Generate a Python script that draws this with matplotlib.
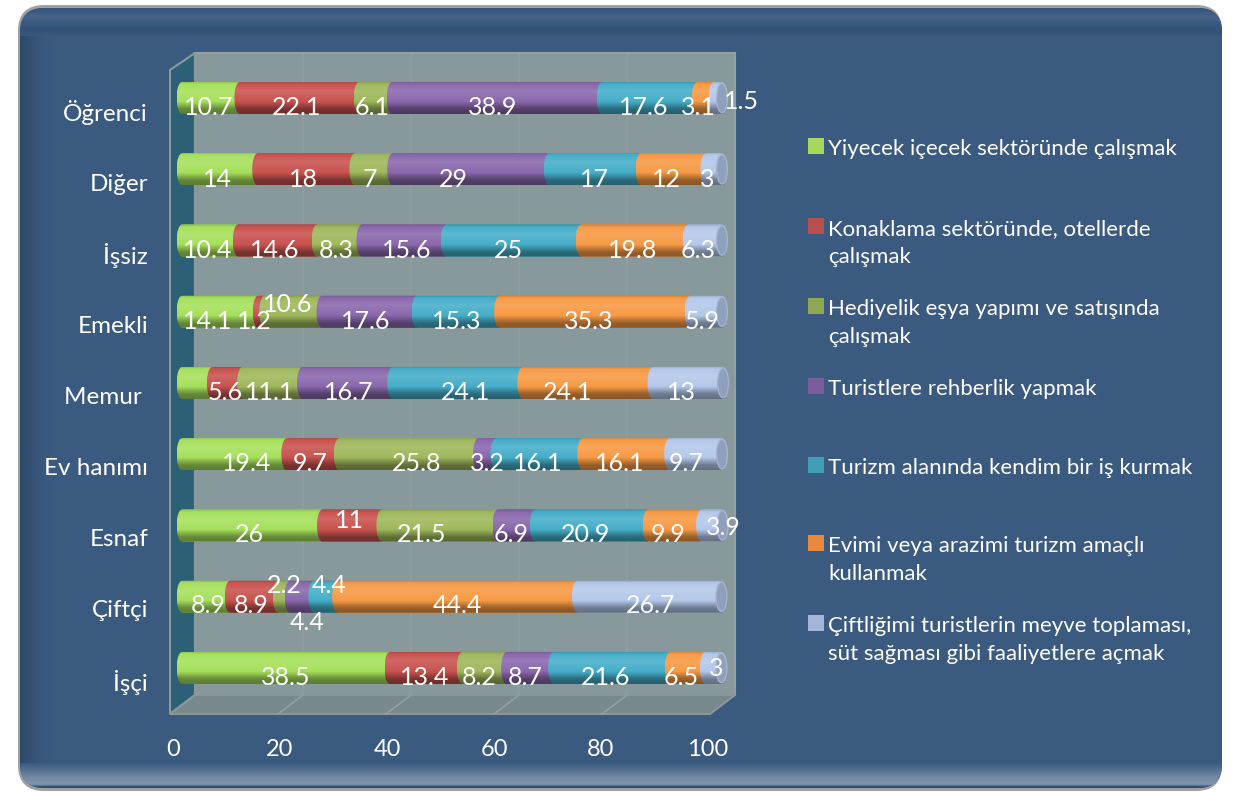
import numpy as np
import matplotlib
matplotlib.use("Agg")
import matplotlib.pyplot as plt
from matplotlib.patches import FancyBboxPatch, PathPatch, Rectangle, Polygon, Ellipse
from matplotlib.path import Path

plt.rcParams['font.family'] = ['Lato', 'DejaVu Sans']

W, H = 1242, 792

categories = ["Öğrenci", "Diğer", "İşsiz", "Emekli", "Memur ", "Ev hanımı", "Esnaf", "Çiftçi", "İşçi"]
yiyecek = [10.7, 14, 10.4, 14.1, 5.6, 19.4, 26, 8.9, 38.5]
konaklama = [22.1, 18, 14.6, 1.2, 5.6, 9.7, 11, 8.9, 13.4]
hediyelik = [6.1, 7, 8.3, 10.6, 11.1, 25.8, 21.5, 2.2, 8.2]
rehberlik = [38.9, 29, 15.6, 17.6, 16.7, 3.2, 6.9, 4.4, 8.7]
is_kurmak = [17.6, 17, 25, 15.3, 24.1, 16.1, 20.9, 4.4, 21.6]
evimi = [3.1, 12, 19.8, 35.3, 24.1, 16.1, 9.9, 44.4, 6.5]
ciftlik = [1.5, 3, 6.3, 5.9, 13, 9.7, 3.9, 26.7, 3]
series = [yiyecek, konaklama, hediyelik, rehberlik, is_kurmak, evimi, ciftlik]
colors = ['#a6e05c', '#c9534f', '#9fb85c', '#8a68ad', '#46aec9', '#f79a45', '#b4c8ea']
legend_colors = ['#a6d85e', '#b5504d', '#8fa854', '#7b5c9c', '#3f9fb8', '#e8893c', '#a3b5d8']
legend_labels = ["Yiyecek içecek sektöründe çalışmak",
                 "Konaklama sektöründe, otellerde\nçalışmak",
                 "Hediyelik eşya yapımı ve satışında\nçalışmak",
                 "Turistlere rehberlik yapmak",
                 "Turizm alanında kendim bir iş kurmak",
                 "Evimi veya arazimi turizm amaçlı\nkullanmak",
                 "Çiftliğimi turistlerin meyve toplaması,\nsüt sağması gibi faaliyetlere açmak"]
xticks = [0, 20, 40, 60, 80, 100]

# label nudges in pixels (row, series): (dx, dy up)
nudges = {(0, 6): (30, 6), (1, 3): (-13, 0), (1, 4): (5, 0), (2, 3): (7, 0), (2, 5): (4, 0),
          (3, 0): (-10, 0), (3, 1): (-4, 0), (3, 2): (-3, 17), (3, 4): (3, 0), (3, 6): (3, 0),
          (4, 3): (5, 0), (4, 4): (12, 0), (4, 5): (-14, 0), (5, 0): (15, 0), (5, 2): (12, 0),
          (5, 3): (5, 0), (5, 4): (4, 0), (5, 6): (-3, 0), (6, 1): (1, 14), (6, 2): (-14, 0),
          (6, 6): (18, 7), (7, 0): (4, 0), (7, 2): (3, 20), (7, 3): (8, -17), (7, 4): (7, 20),
          (7, 5): (5, 0), (7, 6): (8, 0), (8, 0): (3, 0), (8, 1): (3, 0), (8, 6): (10, 9)}
hidden = {(4, 0)}


def px_axes(fig, left, right, top, bottom):
    return fig.add_axes([left / W, 1 - bottom / H, (right - left) / W, (bottom - top) / H])


def shade(color, stops, values):
    # vertical gradient of one colour, <1 darkens and >1 goes to white
    rgb = np.array(matplotlib.colors.to_rgb(color))
    f = np.interp(np.linspace(0, 1, 64), stops, values)[:, None]
    out = np.where(f <= 1, rgb * f, rgb + (1 - rgb) * (f - 1))
    return out[:, None, :]


fig = plt.figure(figsize=(W / 100, H / 100), dpi=100, facecolor='white')

# frame and panel, in pixels
bg = fig.add_axes([0, 0, 1, 1])
bg.set_xlim(0, W)
bg.set_ylim(H, 0)
bg.axis('off')
panel = '#3a5a80'
bg.add_patch(FancyBboxPatch((18, 5), 1204, 786, boxstyle="round,pad=0,rounding_size=26",
                            fc='#a0a0a0', ec='none', zorder=1))
frame = FancyBboxPatch((20, 8), 1202, 780, boxstyle="round,pad=0,rounding_size=24",
                       fc=panel, ec='none', zorder=1.2)
bg.add_patch(frame)
bands = [(shade(panel, [0, 0.3, 0.8, 1], [0.95, 1.07, 0.92, 0.97]), (20, 1222, 36, 8)),
         (shade(panel, [0, 0.3, 0.6, 0.86, 0.95, 1], [1.0, 1.15, 1.3, 1.36, 0.95, 0.72]), (20, 1222, 788, 763))]
for img, ext in bands:
    im = bg.imshow(img, extent=ext, aspect='auto', zorder=1.5)
    im.set_clip_path(frame)
left_edge = np.interp(np.linspace(0, 1, 32), [0, 0.7, 1], [0.82, 0.98, 1])[None, :, None]
im = bg.imshow(left_edge * np.array(matplotlib.colors.to_rgb(panel))[None, None, :],
               extent=(20, 52, 763, 36), aspect='auto', zorder=1.6)
im.set_clip_path(frame)
bg.set_xlim(0, W)
bg.set_ylim(H, 0)

# 3D box walls
wall_l, wall_r, wall_t, wall_b = 195, 735, 53, 695
front_l, front_b = 170, 714
bg.add_patch(Rectangle((wall_l, wall_t), wall_r - wall_l, wall_b - wall_t, fc='#87999a', ec='#93a0a2', lw=1.5, zorder=2))
bg.add_patch(Polygon([(front_l, 70), (wall_l, wall_t), (wall_l, wall_b), (front_l, front_b)],
                     fc='#2c6077', ec='#8a9a9c', lw=1.5, zorder=2))
bg.add_patch(Polygon([(front_l, front_b), (wall_l, wall_b), (wall_r, wall_b), (wall_r - 25, front_b)],
                     fc='#78898c', ec='#8a9799', lw=1.5, zorder=2))
for t in xticks[1:-1]:
    xb = wall_l + (wall_r - wall_l) * t / 100
    xf = front_l + (wall_r - wall_l) * t / 100
    bg.plot([xb, xb, xf], [wall_t, wall_b, front_b], color='#939fa1', lw=1.2, zorder=2.5)

# front plane axes carry the ticks and the data labels
front = px_axes(fig, 173, 708, 75.4, 715.6)
front.patch.set_alpha(0)
front.set_xlim(0, 100)
front.set_ylim(8.5, -0.5)
for s in front.spines.values():
    s.set_visible(False)
front.set_xticks(xticks)
front.set_yticks(range(len(categories)))
front.set_yticklabels(categories)
front.tick_params(axis='x', length=0, pad=17, labelsize=17, labelcolor='white')
front.tick_params(axis='y', length=0, pad=18, labelsize=17.5, labelcolor='white')

# bars, axes a bit wider than 0-100 so the round ends are not cut
ax = px_axes(fig, 182 - 16.2, 722 + 16.2, 62.4, 703.6)
ax.patch.set_alpha(0)
ax.axis('off')
lefts = np.zeros(len(categories))
cap = 1.0
grad_stops = [0, 0.08, 0.3, 0.62, 0.85, 1]
grad_vals = [0.82, 1.0, 1.12, 1.0, 0.62, 0.55]
for j, (vals, col) in enumerate(zip(series, colors)):
    bars = ax.barh(range(len(vals)), vals, left=lefts, height=0.45, color=col, zorder=3 + j)
    for i, bar in enumerate(bars):
        x0, w = bar.get_x(), bar.get_width()
        y0, h = bar.get_y(), bar.get_height()
        t = np.linspace(-np.pi / 2, np.pi / 2, 24)
        yc = y0 + h / 2
        # rounded left end, right end only on the last segment
        lx = x0 - cap * np.cos(t)
        ly = yc + h / 2 * np.sin(t)
        if j == len(series) - 1:
            rx = x0 + w + cap * np.cos(t[::-1])
        else:
            rx = np.full_like(t, x0 + w)
        ry = yc + h / 2 * np.sin(t[::-1])
        verts = np.vstack([np.c_[lx, ly], np.c_[rx, ry], [lx[0], ly[0]]])
        clip = PathPatch(Path(verts, closed=False), transform=ax.transData, fc='none', ec='none')
        ax.add_patch(clip)
        bar.set_clip_path(clip)
        im = ax.imshow(shade(col, grad_stops, grad_vals), extent=(x0 - cap, x0 + w + cap, y0 + h, y0),
                       aspect='auto', zorder=3 + j, interpolation='bilinear')
        im.set_clip_path(clip)
        if j == len(series) - 1:
            ax.add_patch(Ellipse((x0 + w, yc), 2 * cap, h * 0.92, fc='#8f9fbc', ec='#a3b3d0', lw=1, zorder=11))
    lefts = lefts + np.array(vals)
ax.set_xlim(-3, 103)
ax.set_ylim(8.5, -0.5)

# data labels
front.set_zorder(ax.get_zorder() + 1)
base = np.zeros(len(categories))
for j, vals in enumerate(series):
    for i, v in enumerate(vals):
        if (i, j) in hidden:
            continue
        dx, dy = nudges.get((i, j), (0, 0))
        front.annotate(f"{v:g}", xy=(base[i] + v / 2, i), xytext=(7 + dx, 3 + dy), textcoords='offset pixels',
                       ha='center', va='center', color='white', fontsize=18, annotation_clip=False)
    base = base + np.array(vals)

# legend
leg_y = [146, 226, 306, 386, 465, 543, 623]
for y, label, col in zip(leg_y, legend_labels, legend_colors):
    bg.add_patch(Rectangle((808, y - 8), 16, 16, fc=col, ec='none', zorder=3))
    bg.text(828, y - 7, label, color='white', fontsize=16, va='top', ha='left', linespacing=1.5, zorder=3)

fig.savefig("out.png", dpi=100, facecolor='white')
